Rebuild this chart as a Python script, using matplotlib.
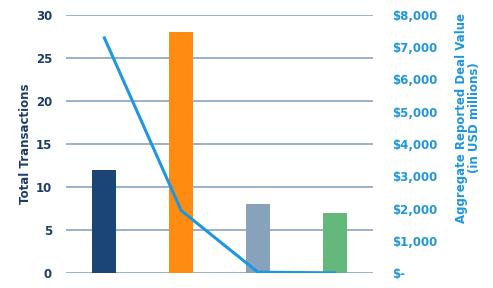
import matplotlib
matplotlib.use("Agg")
import matplotlib.pyplot as plt
from matplotlib.ticker import FuncFormatter

categories = ["A", "B", "C", "D"]
transactions = [12, 28, 8, 7]
deal_value = [7290, 1940, 25, 5]
bar_colors = ["#1B4574", "#FF8C11", "#87A2BA", "#64B87C"]
left_ticks = [0, 5, 10, 15, 20, 25, 30]
right_ticks = [0, 1000, 2000, 3000, 4000, 5000, 6000, 7000, 8000]

navy = "#1B3C6A"
blue = "#1E96E0"

fig = plt.figure(figsize=(4.93, 2.88), dpi=100)
ax = fig.add_axes([66/493, 1-273/288, (373-66)/493, (273-15)/288])
x = list(range(len(categories)))
ax.bar(x, transactions, width=0.31, color=bar_colors, zorder=3)
ax.set_xlim(-0.5, len(categories)-0.5)
ax.set_ylim(0, 30)
ax.set_yticks(left_ticks)
ax.grid(axis="y", color="#7F9CB8", linewidth=1.1, zorder=0)
ax.set_axisbelow(True)
for s in ax.spines.values():
    s.set_visible(False)
ax.tick_params(axis="y", length=0, pad=10, labelsize=8.5, labelcolor=navy)
ax.tick_params(axis="x", length=0, labelbottom=False)
for t in ax.get_yticklabels():
    t.set_fontweight("bold")
ax.set_ylabel("Total Transactions", color=navy, fontsize=8.5, fontweight="bold", labelpad=3)

ax2 = ax.twinx()
ax2.plot(x, deal_value, color=blue, linewidth=2.2, zorder=4)
ax2.set_ylim(0, 8000)
ax2.set_yticks(right_ticks)
ax2.yaxis.set_major_formatter(FuncFormatter(lambda v, p: "$-" if v == 0 else "${:,.0f}".format(v)))
for s in ax2.spines.values():
    s.set_visible(False)
ax2.tick_params(axis="y", length=0, pad=14, labelsize=8.5, labelcolor=blue)
for t in ax2.get_yticklabels():
    t.set_fontweight("bold")

fig.text(468/493, 1-118/288, "Aggregate Reported Deal Value\n(in USD millions)", color=blue,
         fontsize=8.5, fontweight="bold", rotation=90, ha="center", va="center",
         multialignment="center", linespacing=1.0)

fig.savefig("out.png", dpi=100)
